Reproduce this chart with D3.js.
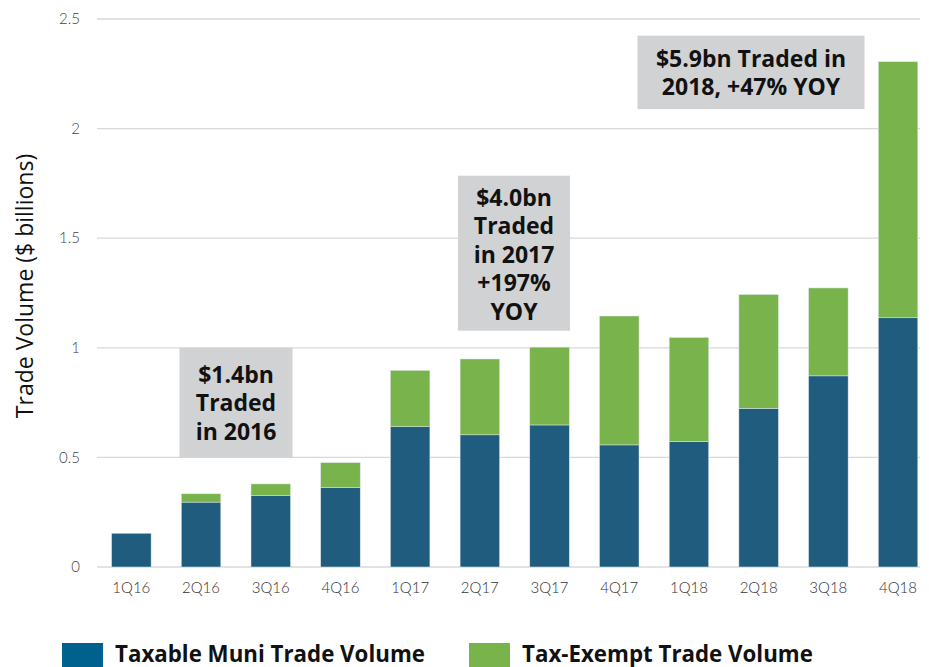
<!DOCTYPE html>
<html>
<head>
<meta charset="utf-8">
<script src="https://cdn.jsdelivr.net/npm/d3@7"></script>
<style>
  body { margin: 0; background: #fff; }
  text { font-family: Lato, "Open Sans", sans-serif; }
  .bold { font-family: "Open Sans", Lato, sans-serif; }
</style>
</head>
<body>
<div id="chart"></div>
<script>
// quarters and the two series ($ billions)
var quarters = ["1Q16", "2Q16", "3Q16", "4Q16", "1Q17", "2Q17", "3Q17", "4Q17", "1Q18", "2Q18", "3Q18", "4Q18"];
var taxable = [0.154, 0.296, 0.325, 0.362, 0.640, 0.603, 0.648, 0.557, 0.573, 0.724, 0.872, 1.137];
var exempt = [0.0, 0.038, 0.054, 0.114, 0.257, 0.346, 0.355, 0.588, 0.474, 0.519, 0.401, 1.168];
var yTicks = [0, 0.5, 1, 1.5, 2, 2.5];
var seriesNames = ["Taxable Muni Trade Volume", "Tax-Exempt Trade Volume"];

var svgWidth = 929;
var svgHeight = 667;

var svg = d3.select("#chart")
    .append("svg")
    .attr("width", svgWidth)
    .attr("height", svgHeight);

var data = quarters.map(function(q, i) {
    return { q: q, taxable: taxable[i], exempt: exempt[i] };
});

var x = d3.scaleBand()
    .domain(quarters)
    .range([96.5, 932.9])
    .paddingInner(0.433)
    .paddingOuter(0.2165);

var y = d3.scaleLinear()
    .domain([0, 2.5])
    .range([567, 19]);

var colors = { taxable: "#1f5c7e", exempt: "#79b34c" };

// gridlines
svg.append("g")
    .selectAll("line")
    .data(yTicks)
    .enter()
    .append("line")
    .attr("x1", 97)
    .attr("x2", 920)
    .attr("y1", d => y(d))
    .attr("y2", d => y(d))
    .attr("stroke", "#d9d9d9")
    .attr("stroke-width", 1.3);

// y tick labels
svg.append("g")
    .selectAll("text")
    .data(yTicks)
    .enter()
    .append("text")
    .attr("x", 80)
    .attr("y", d => y(d))
    .attr("dy", "0.35em")
    .attr("text-anchor", "end")
    .attr("font-size", 15)
    .attr("font-weight", 300)
    .attr("fill", "#444")
    .text(d => d);

// stacked bars
var stack = d3.stack().keys(["taxable", "exempt"]);
var layers = stack(data);

svg.append("g")
    .selectAll("g")
    .data(layers)
    .enter()
    .append("g")
    .attr("fill", d => colors[d.key])
    .selectAll("rect")
    .data(d => d)
    .enter()
    .append("rect")
    .attr("x", d => x(d.data.q))
    .attr("y", d => y(d[1]))
    .attr("width", x.bandwidth())
    .attr("height", d => y(d[0]) - y(d[1]))
    .attr("stroke", "#dfe7ea")
    .attr("stroke-width", 0.5);

// x labels
svg.append("g")
    .selectAll("text")
    .data(quarters)
    .enter()
    .append("text")
    .attr("x", d => x(d) + x.bandwidth() / 2)
    .attr("y", 588)
    .attr("dy", "0.35em")
    .attr("text-anchor", "middle")
    .attr("font-size", 15)
    .attr("font-weight", 300)
    .attr("fill", "#333")
    .text(d => d);

// y axis title
svg.append("text")
    .attr("class", "bold")
    .attr("transform", "translate(33, 286) rotate(-90)")
    .attr("text-anchor", "middle")
    .attr("font-size", 23)
    .attr("fill", "#111")
    .text("Trade Volume ($ billions)");

// annotation boxes
var notes = [
    { cx: 236, top: 1.0, bottom: 0.5, w: 113, lines: ["$1.4bn", "Traded", "in 2016"], first: 375 },
    { cx: 514, top: 1.785, bottom: 1.078, w: 112, lines: ["$4.0bn", "Traded", "in 2017", "+197%", "YOY"], first: 198 },
    { cx: 751, top: 2.424, bottom: 2.089, w: 227, lines: ["$5.9bn Traded in", "2018, +47% YOY"], first: 58.5 }
];

notes.forEach(function(n) {
    var g = svg.append("g");
    g.append("rect")
        .attr("x", n.cx - n.w / 2)
        .attr("y", y(n.top))
        .attr("width", n.w)
        .attr("height", y(n.bottom) - y(n.top))
        .attr("fill", "#d1d2d4");
    g.selectAll("text")
        .data(n.lines)
        .enter()
        .append("text")
        .attr("class", "bold")
        .attr("x", n.cx)
        .attr("y", (d, i) => n.first + i * 28.4)
        .attr("dy", "0.35em")
        .attr("text-anchor", "middle")
        .attr("font-size", 23)
        .attr("font-weight", "bold")
        .attr("fill", "#111")
        .text(d => d);
});

// legend
var legendX = [62, 469];
var legendColors = ["#00618f", "#79b34c"];
var legend = svg.append("g")
    .selectAll("g")
    .data(seriesNames)
    .enter()
    .append("g")
    .attr("transform", (d, i) => `translate(${legendX[i]}, 643)`);

legend.append("rect")
    .attr("width", 41)
    .attr("height", 26)
    .attr("fill", (d, i) => legendColors[i]);

legend.append("text")
    .attr("class", "bold")
    .attr("x", 53)
    .attr("y", 18.5)
    .attr("font-size", 22.3)
    .attr("font-weight", "bold")
    .attr("fill", "#111")
    .text(d => d);
</script>
</body>
</html>
